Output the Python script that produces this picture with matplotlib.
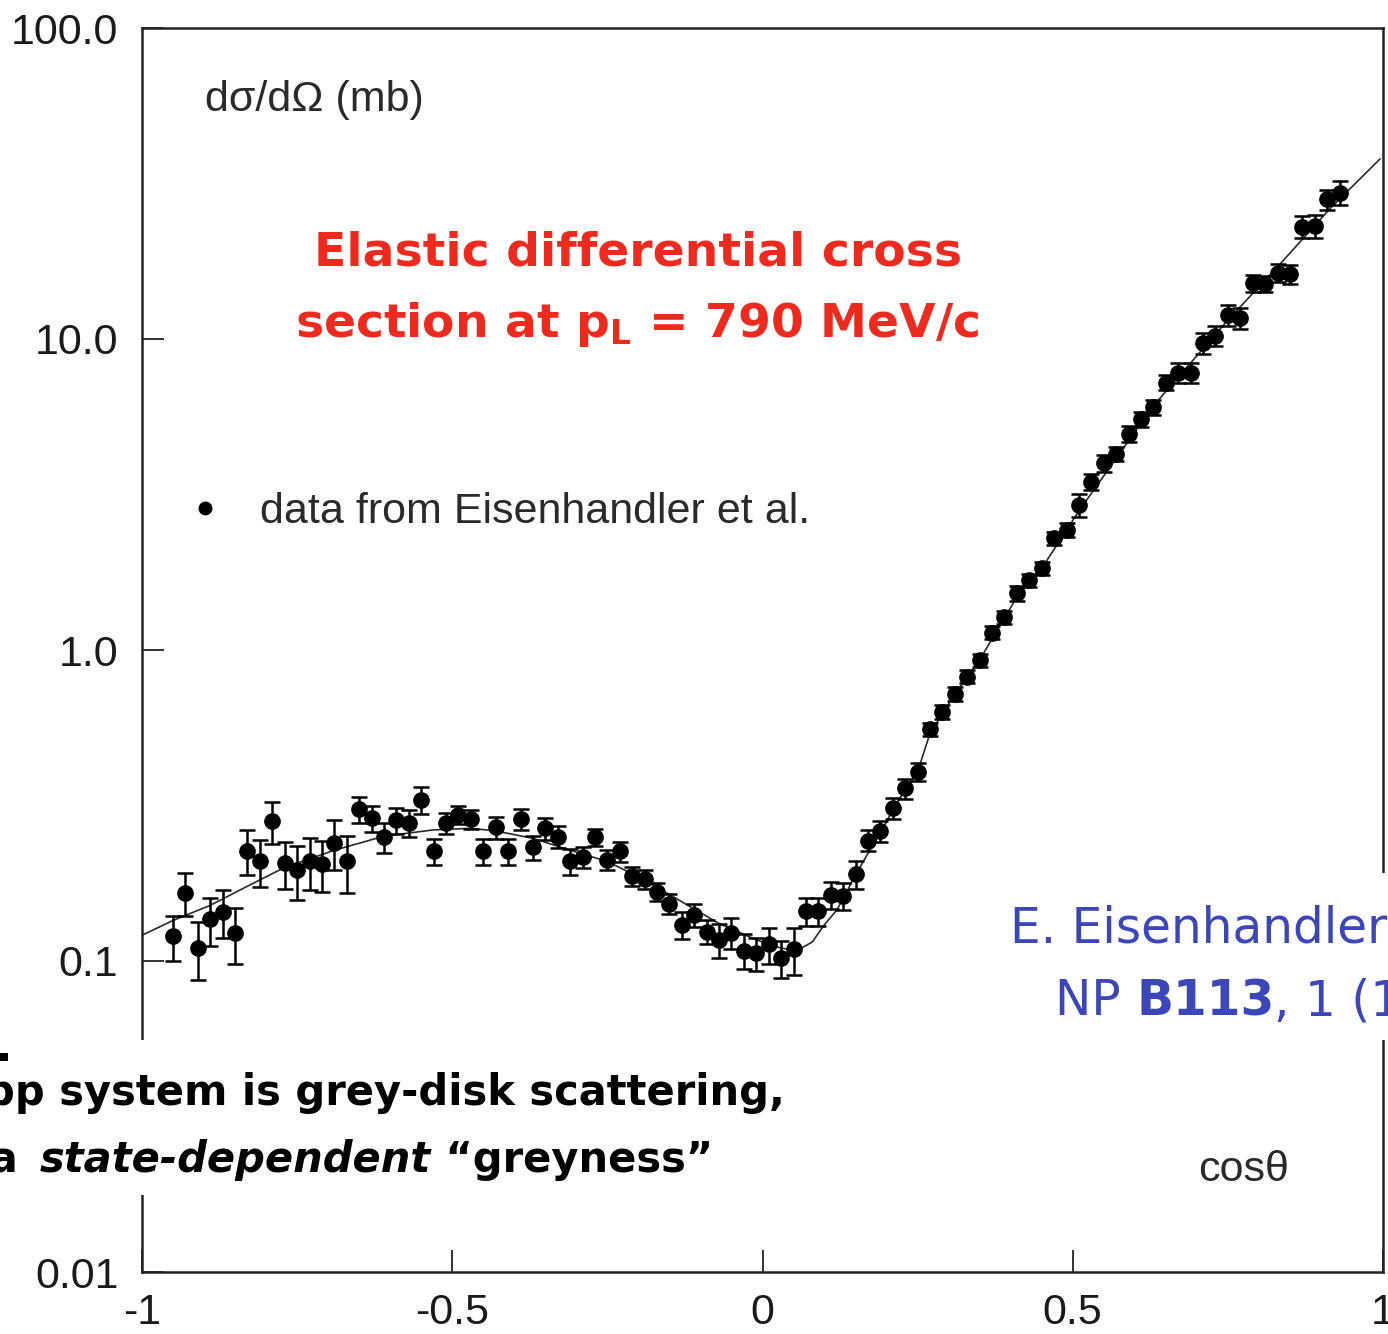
import matplotlib
matplotlib.use("Agg")
import matplotlib.pyplot as plt
from matplotlib.lines import Line2D
from matplotlib.patches import Rectangle

# Measured elastic differential cross section (Eisenhandler et al.)
cos_theta = [-0.95, -0.93, -0.91, -0.89, -0.87, -0.85, -0.83, -0.81, -0.79, -0.77,
             -0.75, -0.73, -0.71, -0.69, -0.67, -0.65, -0.63, -0.61, -0.59, -0.57,
             -0.55, -0.53, -0.51, -0.49, -0.47, -0.45, -0.43, -0.41, -0.39, -0.37,
             -0.35, -0.33, -0.31, -0.29, -0.27, -0.25, -0.23, -0.21, -0.19, -0.17,
             -0.15, -0.13, -0.11, -0.09, -0.07, -0.05, -0.03, -0.01, 0.01, 0.03,
             0.05, 0.07, 0.09, 0.11, 0.13, 0.15, 0.17, 0.19, 0.21, 0.23,
             0.25, 0.27, 0.29, 0.31, 0.33, 0.35, 0.37, 0.39, 0.41, 0.43,
             0.45, 0.47, 0.49, 0.51, 0.53, 0.55, 0.57, 0.59, 0.61, 0.63,
             0.65, 0.67, 0.69, 0.71, 0.73, 0.75, 0.77, 0.79, 0.81, 0.83,
             0.85, 0.87, 0.89, 0.91, 0.93]
dsigma = [0.120, 0.166, 0.110, 0.136, 0.144, 0.123, 0.226, 0.209, 0.281, 0.206,
          0.196, 0.209, 0.205, 0.240, 0.209, 0.307, 0.288, 0.250, 0.283, 0.278,
          0.329, 0.225, 0.278, 0.295, 0.286, 0.225, 0.269, 0.225, 0.286, 0.232,
          0.267, 0.251, 0.209, 0.216, 0.250, 0.212, 0.225, 0.187, 0.183, 0.167,
          0.153, 0.131, 0.141, 0.124, 0.117, 0.123, 0.108, 0.106, 0.113, 0.102,
          0.109, 0.145, 0.145, 0.163, 0.162, 0.190, 0.244, 0.261, 0.310, 0.359,
          0.406, 0.556, 0.633, 0.722, 0.821, 0.929, 1.137, 1.274, 1.522, 1.680,
          1.831, 2.287, 2.432, 2.925, 3.476, 3.983, 4.268, 4.949, 5.519, 6.032,
          7.236, 7.794, 7.794, 9.730, 10.22, 11.94, 11.66, 15.11, 15.03, 16.34,
          16.18, 22.97, 23.09, 28.13, 29.54]
dsigma_err = [0.020, 0.026, 0.023, 0.024, 0.025, 0.025, 0.037, 0.036, 0.043, 0.036,
              0.039, 0.040, 0.038, 0.044, 0.044, 0.029, 0.028, 0.027, 0.027, 0.028,
              0.033, 0.021, 0.022, 0.020, 0.020, 0.022, 0.022, 0.022, 0.023, 0.020,
              0.022, 0.020, 0.020, 0.017, 0.015, 0.016, 0.017, 0.013, 0.013, 0.011,
              0.011, 0.013, 0.012, 0.011, 0.015, 0.014, 0.014, 0.013, 0.015, 0.014,
              0.019, 0.015, 0.015, 0.016, 0.016, 0.020, 0.019, 0.020, 0.024, 0.027,
              0.027, 0.028, 0.032, 0.036, 0.040, 0.045, 0.055, 0.060, 0.08, 0.08,
              0.09, 0.11, 0.12, 0.25, 0.21, 0.24, 0.22, 0.30, 0.29, 0.32,
              0.40, 0.60, 0.60, 0.75, 0.75, 0.90, 0.90, 0.90, 0.90, 1.10,
              1.10, 1.90, 1.90, 2.10, 2.60]

# Model curve (grey-disk fit)
fit_cos = [-1.00, -0.95, -0.89, -0.83, -0.77, -0.69, -0.61, -0.53, -0.47, -0.43,
           -0.37, -0.31, -0.25, -0.19, -0.13, -0.07, -0.01, 0.03, 0.055, 0.08,
           0.10, 0.12, 0.15, 0.17, 0.19, 0.21, 0.23, 0.25, 0.27, 0.31,
           0.35, 0.41, 0.45, 0.51, 0.63, 0.75, 0.835, 0.915, 0.995]
fit_val = [0.121, 0.135, 0.151, 0.174, 0.200, 0.227, 0.252, 0.264, 0.267, 0.262,
           0.248, 0.227, 0.209, 0.182, 0.155, 0.132, 0.117, 0.110, 0.108, 0.115,
           0.131, 0.146, 0.189, 0.222, 0.258, 0.306, 0.356, 0.406, 0.54, 0.72,
           0.93, 1.48, 1.83, 2.80, 6.10, 11.5, 17.5, 26.3, 37.9]

x_ticks = [-1, -0.5, 0, 0.5, 1]
x_tick_labels = ["-1", "-0.5", "0", "0.5", "1"]
y_ticks = [0.01, 0.1, 1.0, 10.0, 100.0]
y_tick_labels = ["0.01", "0.1", "1.0", "10.0", "100.0"]

W, H = 1388, 1334
fig = plt.figure(figsize=(W / 100, H / 100), dpi=100)
fig.patch.set_facecolor("white")
ax = fig.add_axes([142 / W, 62 / H, 1241 / W, 1244 / H])

sans = ["Liberation Sans", "DejaVu Sans"]

ax.plot(fit_cos, fit_val, color="#2a2a2a", lw=1.2, zorder=2)
ax.errorbar(cos_theta, dsigma, yerr=dsigma_err, fmt="o", color="black",
            ms=11, ecolor="black", elinewidth=1.8, capsize=6, capthick=1.8,
            zorder=3)

ax.set_yscale("log")
ax.set_xlim(-1, 1)
ax.set_ylim(0.01, 100)
ax.set_xticks(x_ticks)
ax.set_xticklabels(x_tick_labels)
ax.set_yticks(y_ticks)
ax.set_yticklabels(y_tick_labels)
ax.minorticks_off()
ax.tick_params(axis="both", direction="in", length=16, width=1.3,
               color="#222222", labelsize=31, labelcolor="#1a1a1a")
ax.tick_params(axis="y", pad=17)
ax.tick_params(axis="x", pad=15)
for lab in ax.get_xticklabels() + ax.get_yticklabels():
    lab.set_family(sans)
for sp in ax.spines.values():
    sp.set_color("#222222")
    sp.set_linewidth(1.8)

# In-frame labels
ax.text(205 / W, 1 - 100 / H, "dσ/dΩ (mb)", transform=fig.transFigure,
        fontsize=31, family=sans, color="#2a2a2a", va="center", ha="left")
ax.text(1198 / W, 1 - 1170 / H, "cosθ", transform=fig.transFigure,
        fontsize=31, family=sans, color="#2a2a2a", va="center", ha="left")

proxy = Line2D([], [], marker="o", ls="none", color="black", markersize=9)
leg = ax.legend([proxy], ["data from Eisenhandler et al."], loc="center left",
                bbox_to_anchor=(183 / W, 1 - 512 / H),
                bbox_transform=fig.transFigure, frameon=False,
                handlelength=1.0, handletextpad=0.8, borderpad=0,
                borderaxespad=0, prop={"family": sans, "size": 31})
for t in leg.get_texts():
    t.set_color("#2a2a2a")

# Title annotation
red = "#ee2a1e"
fig.text(638 / W, 1 - 265 / H, "Elastic differential cross", color=red,
         fontsize=34, fontweight="bold", ha="center", va="baseline",
         family="DejaVu Sans")
fig.text(637 / W, 1 - 337 / H, r"section at p$_{\mathregular{L}}$ = 790 MeV/c",
         color=red, fontsize=34, fontweight="bold", ha="center", va="baseline",
         family="DejaVu Sans")

# White panels carrying the reference and the comment
fig.add_artist(Rectangle((0, 1 - 1195 / H), 795 / W, 155 / H,
                         transform=fig.transFigure, facecolor="white",
                         edgecolor="none", zorder=5))
fig.add_artist(Rectangle((1000 / W, 1 - 1040 / H), 388 / W, 167 / H,
                         transform=fig.transFigure, facecolor="white",
                         edgecolor="none", zorder=5))

renderer = fig.canvas.get_renderer()


def text_run(x_px, y_px, pieces, **common):
    """Draw consecutive text pieces on one baseline, each starting where
    the previous one ended."""
    x = x_px
    for s, extra in pieces:
        kw = dict(common)
        kw.update(extra)
        t = fig.text(x / W, 1 - y_px / H, s, ha="left", va="baseline",
                     zorder=6, **kw)
        x = t.get_window_extent(renderer).x1


blue = "#3b46b8"
fig.text(1010 / W, 1 - 943 / H, "E. Eisenhandler et al.,", color=blue,
         fontsize=35, ha="left", va="baseline", family="DejaVu Sans", zorder=6)
text_run(1055, 1015,
         [("NP ", {}), ("B113", {"fontweight": "bold"}), (", 1 (1976)", {})],
         color=blue, fontsize=35, family="DejaVu Sans")

fig.add_artist(Rectangle((0, 1 - 1061 / H), 8 / W, 8 / H,
                         transform=fig.transFigure, facecolor="black",
                         edgecolor="none", zorder=6))
fig.text(785 / W, 1 - 1105 / H, "pp system is grey-disk scattering,",
         color="black", fontsize=30, fontweight="bold", ha="right",
         va="baseline", family="DejaVu Sans", zorder=6)
fig.text(18 / W, 1 - 1172 / H, "with a", color="black", fontsize=30,
         fontweight="bold", ha="right", va="baseline", family="DejaVu Sans",
         zorder=6)
text_run(40, 1172,
         [("state-dependent", {"fontstyle": "italic"}),
          (" \u201cgreyness\u201d", {})],
         color="black", fontsize=30, fontweight="bold", family="DejaVu Sans")

fig.savefig("out.png", dpi=100, facecolor="white")
